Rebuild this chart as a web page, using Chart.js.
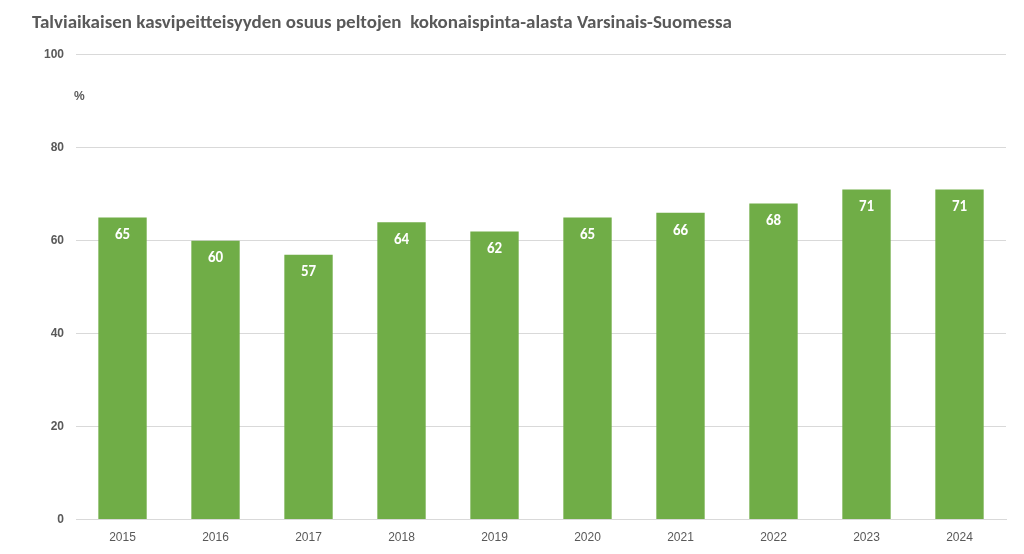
<!DOCTYPE html>
<html><head><meta charset="utf-8">
<script src="https://cdn.jsdelivr.net/npm/chart.js@4/dist/chart.umd.min.js"></script>
<style>html,body{margin:0;background:#fff}#w{width:1024px;height:554px}</style>
</head><body><div id="w"><canvas id="c"></canvas></div>
<script>
const categories=["2015","2016","2017","2018","2019","2020","2021","2022","2023","2024"];
const values=[65,60,57,64,62,65,66,68,71,71];
const yTicks=[0,20,40,60,80,100];
const titleText="Talviaikaisen kasvipeitteisyyden osuus peltojen  kokonaispinta-alasta Varsinais-Suomessa";
const unitLabel="%";
const labelPlugin={id:'lbl',afterDatasetsDraw(chart){
  const ctx=chart.ctx;const meta=chart.getDatasetMeta(0);
  ctx.save();ctx.fillStyle='#fff';ctx.font='bold 15px Calibri, Carlito, "Liberation Sans", sans-serif';
  ctx.textAlign='center';ctx.textBaseline='middle';
  meta.data.forEach((b,i)=>ctx.fillText(values[i],b.x,b.y+18));
  ctx.fillStyle='#595959';ctx.font='bold 12px "Liberation Sans", sans-serif';ctx.textAlign='left';
  ctx.fillText(unitLabel,chart.chartArea.left-2,chart.scales.y.getPixelForValue(91));
  ctx.restore();}};
new Chart(document.getElementById('c'),{type:'bar',
 data:{labels:categories,datasets:[{data:values,backgroundColor:'#70AD47',categoryPercentage:1,barPercentage:0.52}]},
 plugins:[labelPlugin],
 options:{responsive:true,maintainAspectRatio:false,animation:false,
  layout:{padding:{left:32,right:18,top:4,bottom:6}},
  plugins:{legend:{display:false},tooltip:{enabled:false},
   title:{display:true,text:titleText,align:'start',color:'#595959',font:{size:19,weight:'bold',family:'Calibri, Carlito, "Liberation Sans", sans-serif'},padding:{top:8,bottom:20}}},
  scales:{
   x:{grid:{display:false},border:{color:'#d9d9d9'},ticks:{color:'#595959',font:{size:12,family:'"Liberation Sans", sans-serif'}}},
   y:{min:0,max:100,afterBuildTicks(s){s.ticks=yTicks.map(v=>({value:v}));},
      grid:{color:'#d9d9d9',drawTicks:false},border:{display:false},
      ticks:{color:'#595959',padding:12,font:{size:12,weight:'bold',family:'"Liberation Sans", sans-serif'}}}}}});
</script></body></html>
